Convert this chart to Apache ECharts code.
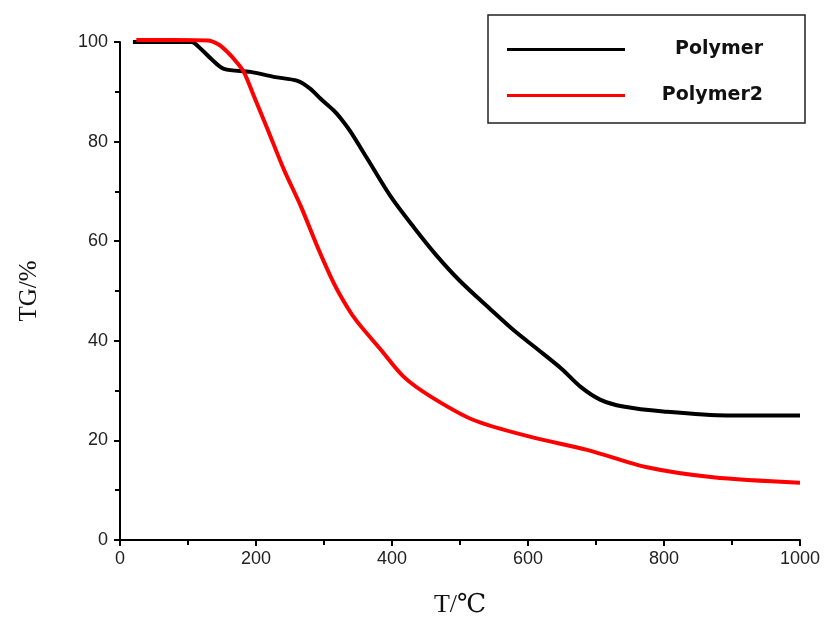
<!DOCTYPE html>
<html>
<head>
<meta charset="utf-8">
<script src="https://cdn.jsdelivr.net/npm/echarts@6/dist/echarts.min.js"></script>
<style>
  html, body { margin: 0; padding: 0; background: #fff; }
  #chart { width: 827px; height: 624px; }
</style>
</head>
<body>
<div id="chart"></div>
<script>
// TG curves (temperature in C, mass in %)
var polymerT = [19, 60, 105, 119, 135, 153, 192, 226, 261, 280, 295, 314, 325, 339, 364,
                398, 432, 465, 500, 545, 580, 614, 650, 677, 706, 740, 799, 893, 1000];
var polymerTG = [100, 100, 100, 98.6, 96.5, 94.6, 94, 93, 92.2, 90.6, 88.6, 86.3, 84.6, 82, 76.5,
                 69, 62.8, 57.2, 52, 46.3, 42, 38.3, 34.3, 30.8, 28.2, 26.8, 25.8, 25, 25];

var polymer2T = [24, 80, 129, 145, 158, 170, 182, 197, 217, 241, 266, 290, 314, 334, 349,
                 383, 417, 457, 520, 604, 687, 775, 872, 1000];
var polymer2TG = [100.4, 100.4, 100.3, 99.5, 98, 96.2, 94, 89.1, 82.5, 74.4, 67, 59, 51.7, 46.8, 43.8,
                  38.3, 32.8, 28.8, 24.1, 20.7, 18.1, 14.6, 12.6, 11.5];

var seriesNames = ['Polymer', 'Polymer2'];

function pairs(xs, ys) {
  let out = [];
  for (let i = 0; i < xs.length; i++) out.push([xs[i], ys[i]]);
  return out;
}

var chart = echarts.init(document.getElementById('chart'));

var axisCommon = {
  type: 'value',
  splitLine: { show: false },
  axisLine: { show: true, onZero: false, lineStyle: { color: '#000', width: 2 } },
  axisTick: { show: true, inside: false, length: 6, lineStyle: { color: '#000', width: 2 } },
  minorTick: { show: true, splitNumber: 2, length: 5, lineStyle: { color: '#000', width: 2 } },
  axisLabel: { color: '#222', fontFamily: 'Liberation Sans, Arial', fontSize: 18,
               formatter: function (v) { return String(v); } },
  nameTextStyle: { color: '#111', fontFamily: 'Liberation Serif, DejaVu Serif, Noto Sans CJK SC', fontSize: 26 }
};

var option = {
  animation: false,
  backgroundColor: '#fff',
  grid: { left: 120, right: 27, top: 42, bottom: 84 },
  legend: {
    orient: 'vertical',
    left: 488,
    top: 15,
    padding: [25, 42, 18, 19],
    itemGap: 27,
    itemWidth: 118,
    itemHeight: 3,
    icon: 'rect',
    borderColor: '#222',
    borderWidth: 1.5,
    selectedMode: false,
    data: seriesNames,
    formatter: function (name) { return '{a|' + name + '}'; },
    textStyle: {
      rich: {
        a: { width: 133, align: 'right', fontFamily: 'DejaVu Sans', fontWeight: 'bold',
             fontSize: 19, color: '#111', lineHeight: 20 }
      }
    }
  },
  xAxis: Object.assign({}, axisCommon, {
    min: 0, max: 1000, interval: 200,
    name: 'T/℃',
    nameLocation: 'middle',
    nameGap: 52,
    axisLabel: Object.assign({}, axisCommon.axisLabel, { margin: 10 })
  }),
  yAxis: Object.assign({}, axisCommon, {
    min: 0, max: 100, interval: 20,
    name: 'TG/%',
    nameLocation: 'middle',
    nameRotate: 90,
    nameGap: 78,
    nameTextStyle: Object.assign({}, axisCommon.nameTextStyle, { fontSize: 25 }),
    axisLabel: Object.assign({}, axisCommon.axisLabel, { margin: 12 })
  }),
  series: [
    {
      name: seriesNames[0], type: 'line', showSymbol: false, clip: false,
      smooth: 0.3,
      color: '#000', lineStyle: { color: '#000', width: 4 },
      data: pairs(polymerT, polymerTG)
    },
    {
      name: seriesNames[1], type: 'line', showSymbol: false, clip: false,
      smooth: 0.3,
      color: '#ff0000', lineStyle: { color: '#ff0000', width: 4 },
      data: pairs(polymer2T, polymer2TG)
    }
  ]
};

chart.setOption(option);
</script>
</body>
</html>
